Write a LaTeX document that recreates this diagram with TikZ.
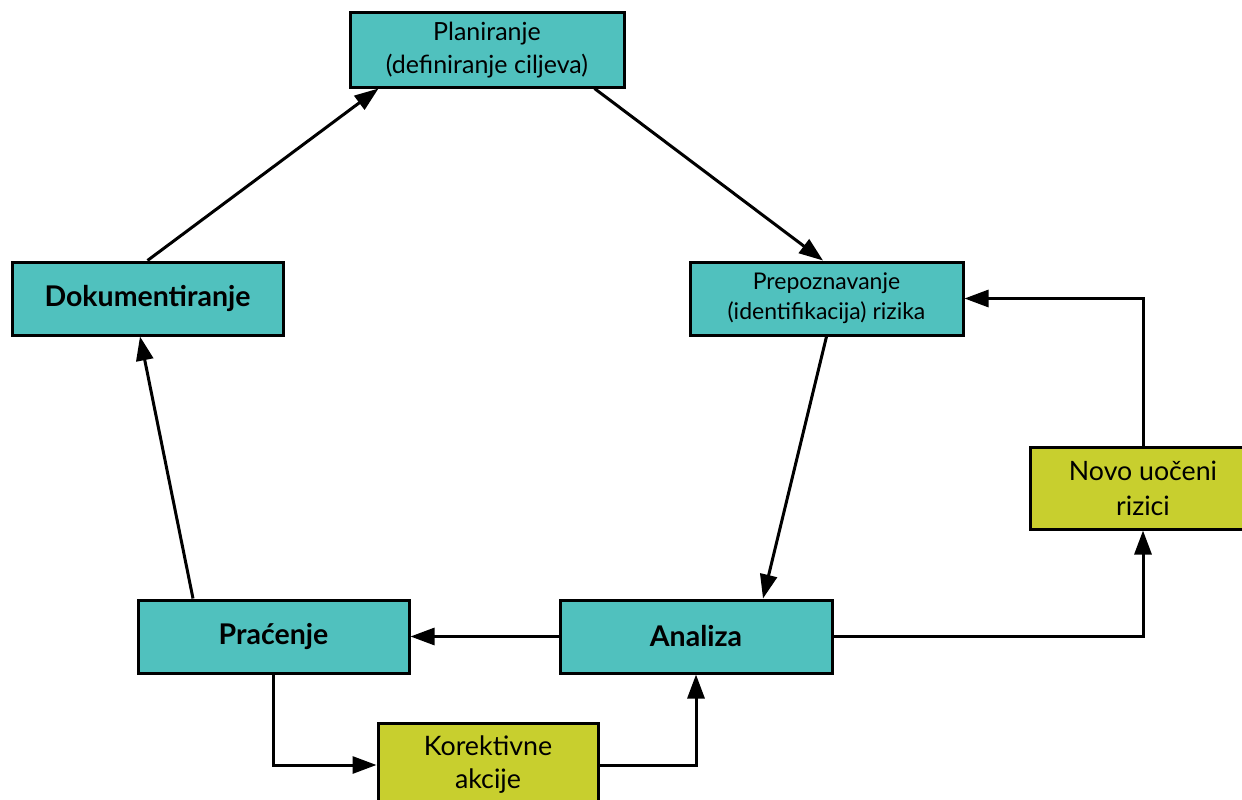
\documentclass[tikz,border=0pt]{standalone}
\usepackage{fontspec}
\setmainfont{Lato}
\usetikzlibrary{arrows.meta}
\definecolor{tealbox}{RGB}{80,193,190}
\definecolor{limebox}{RGB}{200,207,46}
\tikzset{
  box/.style={draw=black, line width=3pt, fill=tealbox, align=center, inner sep=0pt, text=black},
  ybox/.style={draw=black, line width=3pt, fill=limebox, align=center, inner sep=0pt, text=black},
  conn/.style={line width=3pt, -{Triangle[length=24pt,width=17pt]}},
}
\begin{document}
\begin{tikzpicture}[x=1pt,y=-1pt]
\clip (0,0) rectangle (1242,800);
\fill[white] (0,0) rectangle (1242,800);
\node[box, minimum width=274pt, minimum height=74pt, font=\fontsize{25}{33}\selectfont] (plan) at (487,50) {Planiranje\\(definiranje ciljeva)};
\node[box, minimum width=271pt, minimum height=73pt, font=\fontsize{28.5}{34}\selectfont\bfseries] (dok) at (147.5,298.5) {Dokumentiranje};
\node[box, minimum width=273pt, minimum height=73pt, font=\fontsize{23}{30}\selectfont] (prep) at (826.5,298.5) {Prepoznavanje\\(identifikacija) rizika};
\node[box, minimum width=271pt, minimum height=73pt, font=\fontsize{28.5}{34}\selectfont\bfseries] (prac) at (273.5,636.5) {Praćenje};
\node[box, minimum width=272pt, minimum height=73pt, font=\fontsize{28.5}{34}\selectfont\bfseries] (ana) at (696,636.5) {Analiza};
\node[ybox, minimum width=226pt, minimum height=82pt, font=\fontsize{26.7}{35}\selectfont] (novo) at (1143,488) {Novo uočeni\\rizici};
\node[ybox, minimum width=220pt, minimum height=84pt, font=\fontsize{26.8}{33}\selectfont] (kor) at (488,765) {Korektivne\\akcije};

\draw[conn] (dok.north) -- ([xshift=30pt]plan.south west);
\draw[conn] ([xshift=-31pt]plan.south east) -- ([xshift=-3.5pt]prep.north);
\draw[conn] (prep.south) -- ([xshift=67pt]ana.north);
\draw[conn] (ana.west) -- (prac.east);
\draw[conn] ([xshift=-80.5pt]prac.north) -- ([xshift=-7.5pt]dok.south);
\draw[conn] (prac.south) |- (kor.west);
\draw[conn] (kor.east) -| (ana.south);
\draw[conn] (ana.east) -| (novo.south);
\draw[conn] (novo.north) |- (prep.east);
\end{tikzpicture}
\end{document}
